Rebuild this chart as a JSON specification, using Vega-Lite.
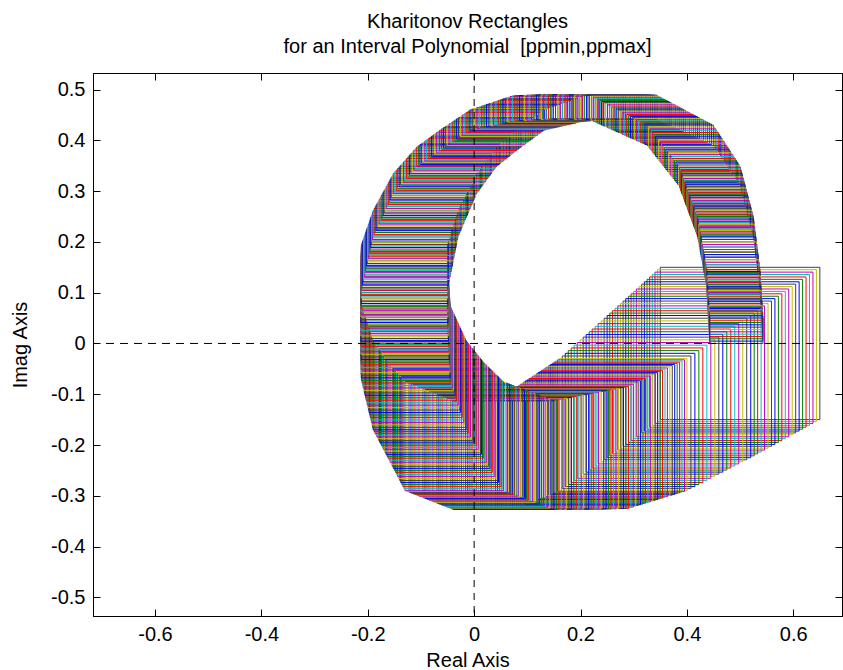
{
"$schema": "https://vega.github.io/schema/vega-lite/v6.json",
"width": 749, "height": 543,
"autosize": {"type": "none"},
"padding": {"left": 93, "top": 73, "right": 1, "bottom": 54},
"background": "white",
"config": {
 "view": {"stroke": "black", "strokeWidth": 1},
 "font": "Liberation Sans",
 "axis": {"grid": false, "tickSize": -7, "tickColor": "black", "tickWidth": 1, "domainColor": "black", "domainWidth": 1, "labelColor": "black", "titleColor": "black", "labelFont": "Liberation Sans", "titleFont": "Liberation Sans", "labelFontSize": 20, "titleFontSize": 20, "titleFontWeight": "normal", "labelFlush": false, "labelOverlap": false}
},
"title": {"text": ["Kharitonov Rectangles", "for an Interval Polynomial \u00a0[ppmin,ppmax]"], "fontSize": 20, "fontWeight": "normal", "font": "Liberation Sans", "color": "black", "anchor": "middle", "offset": 15, "dy": 19, "lineHeight": 25, "baseline": "bottom"},
"layer": [
{
 "data": {"values": [
{"x1":0.35,"x2":0.65,"y1":-0.15,"y2":0.15,"k":0},
{"x1":0.345,"x2":0.6435,"y1":-0.1538,"y2":0.1453,"k":1},
{"x1":0.34,"x2":0.637,"y1":-0.1575,"y2":0.1405,"k":2},
{"x1":0.335,"x2":0.6305,"y1":-0.1613,"y2":0.1358,"k":3},
{"x1":0.33,"x2":0.624,"y1":-0.165,"y2":0.131,"k":4},
{"x1":0.325,"x2":0.6175,"y1":-0.1688,"y2":0.1263,"k":5},
{"x1":0.32,"x2":0.611,"y1":-0.1725,"y2":0.1215,"k":6},
{"x1":0.315,"x2":0.6045,"y1":-0.1763,"y2":0.1168,"k":0},
{"x1":0.31,"x2":0.598,"y1":-0.18,"y2":0.112,"k":1},
{"x1":0.305,"x2":0.5915,"y1":-0.1838,"y2":0.1073,"k":2},
{"x1":0.3,"x2":0.585,"y1":-0.1875,"y2":0.1025,"k":3},
{"x1":0.295,"x2":0.5785,"y1":-0.1913,"y2":0.0978,"k":4},
{"x1":0.29,"x2":0.572,"y1":-0.195,"y2":0.093,"k":5},
{"x1":0.285,"x2":0.5655,"y1":-0.1988,"y2":0.0883,"k":6},
{"x1":0.28,"x2":0.559,"y1":-0.2025,"y2":0.0835,"k":0},
{"x1":0.275,"x2":0.5525,"y1":-0.2063,"y2":0.0788,"k":1},
{"x1":0.27,"x2":0.546,"y1":-0.21,"y2":0.074,"k":2},
{"x1":0.265,"x2":0.5395,"y1":-0.2138,"y2":0.0693,"k":3},
{"x1":0.26,"x2":0.533,"y1":-0.2175,"y2":0.0645,"k":4},
{"x1":0.255,"x2":0.5265,"y1":-0.2213,"y2":0.0598,"k":5},
{"x1":0.25,"x2":0.52,"y1":-0.225,"y2":0.055,"k":6},
{"x1":0.2444,"x2":0.5125,"y1":-0.2291,"y2":0.0497,"k":0},
{"x1":0.2388,"x2":0.505,"y1":-0.2331,"y2":0.0444,"k":1},
{"x1":0.2331,"x2":0.4975,"y1":-0.2372,"y2":0.0391,"k":2},
{"x1":0.2275,"x2":0.49,"y1":-0.2413,"y2":0.0338,"k":3},
{"x1":0.2219,"x2":0.4825,"y1":-0.2453,"y2":0.0284,"k":4},
{"x1":0.2163,"x2":0.475,"y1":-0.2494,"y2":0.0231,"k":5},
{"x1":0.2106,"x2":0.4675,"y1":-0.2534,"y2":0.0178,"k":6},
{"x1":0.205,"x2":0.46,"y1":-0.2575,"y2":0.0125,"k":0},
{"x1":0.1994,"x2":0.4525,"y1":-0.2616,"y2":0.0072,"k":1},
{"x1":0.1938,"x2":0.445,"y1":-0.2656,"y2":0.0019,"k":2},
{"x1":0.1881,"x2":0.4375,"y1":-0.2697,"y2":-0.0034,"k":3},
{"x1":0.1825,"x2":0.43,"y1":-0.2738,"y2":-0.0088,"k":4},
{"x1":0.1769,"x2":0.4225,"y1":-0.2778,"y2":-0.0141,"k":5},
{"x1":0.1713,"x2":0.415,"y1":-0.2819,"y2":-0.0194,"k":6},
{"x1":0.1656,"x2":0.4075,"y1":-0.2859,"y2":-0.0247,"k":0},
{"x1":0.16,"x2":0.4,"y1":-0.29,"y2":-0.03,"k":1},
{"x1":0.1567,"x2":0.3954,"y1":-0.2915,"y2":-0.0323,"k":2},
{"x1":0.1533,"x2":0.3908,"y1":-0.2929,"y2":-0.0346,"k":3},
{"x1":0.15,"x2":0.3863,"y1":-0.2944,"y2":-0.0369,"k":4},
{"x1":0.1467,"x2":0.3817,"y1":-0.2958,"y2":-0.0392,"k":5},
{"x1":0.1433,"x2":0.3771,"y1":-0.2973,"y2":-0.0415,"k":6},
{"x1":0.14,"x2":0.3725,"y1":-0.2988,"y2":-0.0438,"k":0},
{"x1":0.1367,"x2":0.3679,"y1":-0.3002,"y2":-0.046,"k":1},
{"x1":0.1333,"x2":0.3633,"y1":-0.3017,"y2":-0.0483,"k":2},
{"x1":0.13,"x2":0.3588,"y1":-0.3031,"y2":-0.0506,"k":3},
{"x1":0.1267,"x2":0.3542,"y1":-0.3046,"y2":-0.0529,"k":4},
{"x1":0.1233,"x2":0.3496,"y1":-0.306,"y2":-0.0552,"k":5},
{"x1":0.12,"x2":0.345,"y1":-0.3075,"y2":-0.0575,"k":6},
{"x1":0.1167,"x2":0.3404,"y1":-0.309,"y2":-0.0598,"k":0},
{"x1":0.1133,"x2":0.3358,"y1":-0.3104,"y2":-0.0621,"k":1},
{"x1":0.11,"x2":0.3313,"y1":-0.3119,"y2":-0.0644,"k":2},
{"x1":0.1067,"x2":0.3267,"y1":-0.3133,"y2":-0.0667,"k":3},
{"x1":0.1033,"x2":0.3221,"y1":-0.3148,"y2":-0.069,"k":4},
{"x1":0.1,"x2":0.3175,"y1":-0.3163,"y2":-0.0713,"k":5},
{"x1":0.0967,"x2":0.3129,"y1":-0.3177,"y2":-0.0735,"k":6},
{"x1":0.0933,"x2":0.3083,"y1":-0.3192,"y2":-0.0758,"k":0},
{"x1":0.09,"x2":0.3038,"y1":-0.3206,"y2":-0.0781,"k":1},
{"x1":0.0867,"x2":0.2992,"y1":-0.3221,"y2":-0.0804,"k":2},
{"x1":0.0833,"x2":0.2946,"y1":-0.3235,"y2":-0.0827,"k":3},
{"x1":0.08,"x2":0.29,"y1":-0.325,"y2":-0.085,"k":4},
{"x1":0.076,"x2":0.2853,"y1":-0.3251,"y2":-0.0859,"k":5},
{"x1":0.072,"x2":0.2807,"y1":-0.3251,"y2":-0.0869,"k":6},
{"x1":0.068,"x2":0.276,"y1":-0.3252,"y2":-0.0878,"k":0},
{"x1":0.064,"x2":0.2713,"y1":-0.3253,"y2":-0.0887,"k":1},
{"x1":0.06,"x2":0.2667,"y1":-0.3253,"y2":-0.0897,"k":2},
{"x1":0.056,"x2":0.262,"y1":-0.3254,"y2":-0.0906,"k":3},
{"x1":0.052,"x2":0.2573,"y1":-0.3255,"y2":-0.0915,"k":4},
{"x1":0.048,"x2":0.2527,"y1":-0.3255,"y2":-0.0925,"k":5},
{"x1":0.044,"x2":0.248,"y1":-0.3256,"y2":-0.0934,"k":6},
{"x1":0.04,"x2":0.2433,"y1":-0.3257,"y2":-0.0943,"k":0},
{"x1":0.036,"x2":0.2387,"y1":-0.3257,"y2":-0.0953,"k":1},
{"x1":0.032,"x2":0.234,"y1":-0.3258,"y2":-0.0962,"k":2},
{"x1":0.028,"x2":0.2293,"y1":-0.3259,"y2":-0.0971,"k":3},
{"x1":0.024,"x2":0.2247,"y1":-0.3259,"y2":-0.0981,"k":4},
{"x1":0.02,"x2":0.22,"y1":-0.326,"y2":-0.099,"k":5},
{"x1":0.016,"x2":0.2153,"y1":-0.3261,"y2":-0.0999,"k":6},
{"x1":0.012,"x2":0.2107,"y1":-0.3261,"y2":-0.1009,"k":0},
{"x1":0.008,"x2":0.206,"y1":-0.3262,"y2":-0.1018,"k":1},
{"x1":0.004,"x2":0.2013,"y1":-0.3263,"y2":-0.1027,"k":2},
{"x1":0,"x2":0.1967,"y1":-0.3263,"y2":-0.1037,"k":3},
{"x1":-0.004,"x2":0.192,"y1":-0.3264,"y2":-0.1046,"k":4},
{"x1":-0.008,"x2":0.1873,"y1":-0.3265,"y2":-0.1055,"k":5},
{"x1":-0.012,"x2":0.1827,"y1":-0.3265,"y2":-0.1065,"k":6},
{"x1":-0.016,"x2":0.178,"y1":-0.3266,"y2":-0.1074,"k":0},
{"x1":-0.02,"x2":0.1733,"y1":-0.3267,"y2":-0.1083,"k":1},
{"x1":-0.024,"x2":0.1687,"y1":-0.3267,"y2":-0.1093,"k":2},
{"x1":-0.028,"x2":0.164,"y1":-0.3268,"y2":-0.1102,"k":3},
{"x1":-0.032,"x2":0.1593,"y1":-0.3269,"y2":-0.1111,"k":4},
{"x1":-0.036,"x2":0.1547,"y1":-0.3269,"y2":-0.1121,"k":5},
{"x1":-0.04,"x2":0.15,"y1":-0.327,"y2":-0.113,"k":6},
{"x1":-0.0438,"x2":0.146,"y1":-0.3255,"y2":-0.1114,"k":0},
{"x1":-0.0475,"x2":0.1421,"y1":-0.3239,"y2":-0.1098,"k":1},
{"x1":-0.0513,"x2":0.1381,"y1":-0.3224,"y2":-0.1083,"k":2},
{"x1":-0.055,"x2":0.1342,"y1":-0.3208,"y2":-0.1067,"k":3},
{"x1":-0.0588,"x2":0.1302,"y1":-0.3193,"y2":-0.1051,"k":4},
{"x1":-0.0625,"x2":0.1263,"y1":-0.3178,"y2":-0.1035,"k":5},
{"x1":-0.0663,"x2":0.1223,"y1":-0.3162,"y2":-0.1019,"k":6},
{"x1":-0.07,"x2":0.1183,"y1":-0.3147,"y2":-0.1003,"k":0},
{"x1":-0.0738,"x2":0.1144,"y1":-0.3131,"y2":-0.0988,"k":1},
{"x1":-0.0775,"x2":0.1104,"y1":-0.3116,"y2":-0.0972,"k":2},
{"x1":-0.0813,"x2":0.1065,"y1":-0.31,"y2":-0.0956,"k":3},
{"x1":-0.085,"x2":0.1025,"y1":-0.3085,"y2":-0.094,"k":4},
{"x1":-0.0888,"x2":0.0985,"y1":-0.307,"y2":-0.0924,"k":5},
{"x1":-0.0925,"x2":0.0946,"y1":-0.3054,"y2":-0.0908,"k":6},
{"x1":-0.0963,"x2":0.0906,"y1":-0.3039,"y2":-0.0893,"k":0},
{"x1":-0.1,"x2":0.0867,"y1":-0.3023,"y2":-0.0877,"k":1},
{"x1":-0.1038,"x2":0.0827,"y1":-0.3008,"y2":-0.0861,"k":2},
{"x1":-0.1075,"x2":0.0788,"y1":-0.2993,"y2":-0.0845,"k":3},
{"x1":-0.1113,"x2":0.0748,"y1":-0.2977,"y2":-0.0829,"k":4},
{"x1":-0.115,"x2":0.0708,"y1":-0.2962,"y2":-0.0813,"k":5},
{"x1":-0.1188,"x2":0.0669,"y1":-0.2946,"y2":-0.0798,"k":6},
{"x1":-0.1225,"x2":0.0629,"y1":-0.2931,"y2":-0.0782,"k":0},
{"x1":-0.1263,"x2":0.059,"y1":-0.2915,"y2":-0.0766,"k":1},
{"x1":-0.13,"x2":0.055,"y1":-0.29,"y2":-0.075,"k":2},
{"x1":-0.132,"x2":0.0527,"y1":-0.286,"y2":-0.0726,"k":3},
{"x1":-0.134,"x2":0.0504,"y1":-0.282,"y2":-0.0703,"k":4},
{"x1":-0.136,"x2":0.0481,"y1":-0.278,"y2":-0.0679,"k":5},
{"x1":-0.138,"x2":0.0458,"y1":-0.274,"y2":-0.0655,"k":6},
{"x1":-0.14,"x2":0.0434,"y1":-0.27,"y2":-0.0631,"k":0},
{"x1":-0.142,"x2":0.0411,"y1":-0.266,"y2":-0.0608,"k":1},
{"x1":-0.144,"x2":0.0388,"y1":-0.262,"y2":-0.0584,"k":2},
{"x1":-0.146,"x2":0.0365,"y1":-0.258,"y2":-0.056,"k":3},
{"x1":-0.148,"x2":0.0342,"y1":-0.254,"y2":-0.0536,"k":4},
{"x1":-0.15,"x2":0.0319,"y1":-0.25,"y2":-0.0513,"k":5},
{"x1":-0.152,"x2":0.0296,"y1":-0.246,"y2":-0.0489,"k":6},
{"x1":-0.154,"x2":0.0273,"y1":-0.242,"y2":-0.0465,"k":0},
{"x1":-0.156,"x2":0.0249,"y1":-0.238,"y2":-0.0441,"k":1},
{"x1":-0.158,"x2":0.0226,"y1":-0.234,"y2":-0.0418,"k":2},
{"x1":-0.16,"x2":0.0203,"y1":-0.23,"y2":-0.0394,"k":3},
{"x1":-0.162,"x2":0.018,"y1":-0.226,"y2":-0.037,"k":4},
{"x1":-0.1638,"x2":0.0159,"y1":-0.2225,"y2":-0.0343,"k":5},
{"x1":-0.1655,"x2":0.0139,"y1":-0.219,"y2":-0.0316,"k":6},
{"x1":-0.1673,"x2":0.0118,"y1":-0.2155,"y2":-0.0289,"k":0},
{"x1":-0.169,"x2":0.0098,"y1":-0.212,"y2":-0.0263,"k":1},
{"x1":-0.1708,"x2":0.0077,"y1":-0.2085,"y2":-0.0236,"k":2},
{"x1":-0.1725,"x2":0.0056,"y1":-0.205,"y2":-0.0209,"k":3},
{"x1":-0.1743,"x2":0.0036,"y1":-0.2015,"y2":-0.0182,"k":4},
{"x1":-0.176,"x2":0.0015,"y1":-0.198,"y2":-0.0155,"k":5},
{"x1":-0.1778,"x2":-0.0006,"y1":-0.1945,"y2":-0.0128,"k":6},
{"x1":-0.1795,"x2":-0.0026,"y1":-0.191,"y2":-0.0101,"k":0},
{"x1":-0.1813,"x2":-0.0047,"y1":-0.1875,"y2":-0.0074,"k":1},
{"x1":-0.183,"x2":-0.0068,"y1":-0.184,"y2":-0.0048,"k":2},
{"x1":-0.1848,"x2":-0.0088,"y1":-0.1805,"y2":-0.0021,"k":3},
{"x1":-0.1865,"x2":-0.0109,"y1":-0.177,"y2":0.0006,"k":4},
{"x1":-0.1883,"x2":-0.0129,"y1":-0.1735,"y2":0.0033,"k":5},
{"x1":-0.19,"x2":-0.015,"y1":-0.17,"y2":0.006,"k":6},
{"x1":-0.1911,"x2":-0.0165,"y1":-0.1652,"y2":0.0095,"k":0},
{"x1":-0.1922,"x2":-0.018,"y1":-0.1603,"y2":0.0129,"k":1},
{"x1":-0.1933,"x2":-0.0195,"y1":-0.1555,"y2":0.0164,"k":2},
{"x1":-0.1944,"x2":-0.021,"y1":-0.1506,"y2":0.0198,"k":3},
{"x1":-0.1955,"x2":-0.0225,"y1":-0.1458,"y2":0.0233,"k":4},
{"x1":-0.1966,"x2":-0.024,"y1":-0.1409,"y2":0.0267,"k":5},
{"x1":-0.1977,"x2":-0.0255,"y1":-0.1361,"y2":0.0302,"k":6},
{"x1":-0.1988,"x2":-0.027,"y1":-0.1312,"y2":0.0336,"k":0},
{"x1":-0.1999,"x2":-0.0285,"y1":-0.1264,"y2":0.0371,"k":1},
{"x1":-0.201,"x2":-0.03,"y1":-0.1215,"y2":0.0405,"k":2},
{"x1":-0.2021,"x2":-0.0315,"y1":-0.1167,"y2":0.044,"k":3},
{"x1":-0.2032,"x2":-0.033,"y1":-0.1118,"y2":0.0474,"k":4},
{"x1":-0.2043,"x2":-0.0345,"y1":-0.107,"y2":0.0509,"k":5},
{"x1":-0.2054,"x2":-0.036,"y1":-0.1021,"y2":0.0543,"k":6},
{"x1":-0.2065,"x2":-0.0375,"y1":-0.0973,"y2":0.0578,"k":0},
{"x1":-0.2076,"x2":-0.039,"y1":-0.0924,"y2":0.0612,"k":1},
{"x1":-0.2087,"x2":-0.0405,"y1":-0.0876,"y2":0.0647,"k":2},
{"x1":-0.2098,"x2":-0.042,"y1":-0.0827,"y2":0.0681,"k":3},
{"x1":-0.2109,"x2":-0.0435,"y1":-0.0779,"y2":0.0716,"k":4},
{"x1":-0.212,"x2":-0.045,"y1":-0.073,"y2":0.075,"k":5},
{"x1":-0.2121,"x2":-0.0452,"y1":-0.0678,"y2":0.0786,"k":6},
{"x1":-0.2121,"x2":-0.0454,"y1":-0.0627,"y2":0.0822,"k":0},
{"x1":-0.2122,"x2":-0.0457,"y1":-0.0575,"y2":0.0858,"k":1},
{"x1":-0.2122,"x2":-0.0459,"y1":-0.0523,"y2":0.0894,"k":2},
{"x1":-0.2123,"x2":-0.0461,"y1":-0.0472,"y2":0.0931,"k":3},
{"x1":-0.2123,"x2":-0.0463,"y1":-0.042,"y2":0.0967,"k":4},
{"x1":-0.2124,"x2":-0.0466,"y1":-0.0368,"y2":0.1003,"k":5},
{"x1":-0.2124,"x2":-0.0468,"y1":-0.0317,"y2":0.1039,"k":6},
{"x1":-0.2125,"x2":-0.047,"y1":-0.0265,"y2":0.1075,"k":0},
{"x1":-0.2126,"x2":-0.0472,"y1":-0.0213,"y2":0.1111,"k":1},
{"x1":-0.2126,"x2":-0.0474,"y1":-0.0162,"y2":0.1147,"k":2},
{"x1":-0.2127,"x2":-0.0477,"y1":-0.011,"y2":0.1183,"k":3},
{"x1":-0.2127,"x2":-0.0479,"y1":-0.0058,"y2":0.1219,"k":4},
{"x1":-0.2128,"x2":-0.0481,"y1":-0.0007,"y2":0.1256,"k":5},
{"x1":-0.2128,"x2":-0.0483,"y1":0.0045,"y2":0.1292,"k":6},
{"x1":-0.2129,"x2":-0.0486,"y1":0.0097,"y2":0.1328,"k":0},
{"x1":-0.2129,"x2":-0.0488,"y1":0.0148,"y2":0.1364,"k":1},
{"x1":-0.213,"x2":-0.049,"y1":0.02,"y2":0.14,"k":2},
{"x1":-0.2129,"x2":-0.0491,"y1":0.0253,"y2":0.1434,"k":3},
{"x1":-0.2129,"x2":-0.0491,"y1":0.0306,"y2":0.1469,"k":4},
{"x1":-0.2128,"x2":-0.0492,"y1":0.0359,"y2":0.1503,"k":5},
{"x1":-0.2128,"x2":-0.0493,"y1":0.0413,"y2":0.1538,"k":6},
{"x1":-0.2127,"x2":-0.0493,"y1":0.0466,"y2":0.1572,"k":0},
{"x1":-0.2126,"x2":-0.0494,"y1":0.0519,"y2":0.1606,"k":1},
{"x1":-0.2126,"x2":-0.0494,"y1":0.0572,"y2":0.1641,"k":2},
{"x1":-0.2125,"x2":-0.0495,"y1":0.0625,"y2":0.1675,"k":3},
{"x1":-0.2124,"x2":-0.0496,"y1":0.0678,"y2":0.1709,"k":4},
{"x1":-0.2124,"x2":-0.0496,"y1":0.0731,"y2":0.1744,"k":5},
{"x1":-0.2123,"x2":-0.0497,"y1":0.0784,"y2":0.1778,"k":6},
{"x1":-0.2123,"x2":-0.0498,"y1":0.0838,"y2":0.1813,"k":0},
{"x1":-0.2122,"x2":-0.0498,"y1":0.0891,"y2":0.1847,"k":1},
{"x1":-0.2121,"x2":-0.0499,"y1":0.0944,"y2":0.1881,"k":2},
{"x1":-0.2121,"x2":-0.0499,"y1":0.0997,"y2":0.1916,"k":3},
{"x1":-0.212,"x2":-0.05,"y1":0.105,"y2":0.195,"k":4},
{"x1":-0.2109,"x2":-0.049,"y1":0.1103,"y2":0.1984,"k":5},
{"x1":-0.2098,"x2":-0.048,"y1":0.1155,"y2":0.2017,"k":6},
{"x1":-0.2087,"x2":-0.047,"y1":0.1208,"y2":0.2051,"k":0},
{"x1":-0.2076,"x2":-0.046,"y1":0.126,"y2":0.2084,"k":1},
{"x1":-0.2065,"x2":-0.045,"y1":0.1313,"y2":0.2118,"k":2},
{"x1":-0.2054,"x2":-0.044,"y1":0.1365,"y2":0.2151,"k":3},
{"x1":-0.2043,"x2":-0.043,"y1":0.1418,"y2":0.2185,"k":4},
{"x1":-0.2032,"x2":-0.042,"y1":0.147,"y2":0.2218,"k":5},
{"x1":-0.2021,"x2":-0.041,"y1":0.1523,"y2":0.2252,"k":6},
{"x1":-0.201,"x2":-0.04,"y1":0.1575,"y2":0.2285,"k":0},
{"x1":-0.1999,"x2":-0.039,"y1":0.1628,"y2":0.2319,"k":1},
{"x1":-0.1988,"x2":-0.038,"y1":0.168,"y2":0.2352,"k":2},
{"x1":-0.1977,"x2":-0.037,"y1":0.1733,"y2":0.2386,"k":3},
{"x1":-0.1966,"x2":-0.036,"y1":0.1785,"y2":0.2419,"k":4},
{"x1":-0.1955,"x2":-0.035,"y1":0.1838,"y2":0.2453,"k":5},
{"x1":-0.1944,"x2":-0.034,"y1":0.189,"y2":0.2486,"k":6},
{"x1":-0.1933,"x2":-0.033,"y1":0.1943,"y2":0.252,"k":0},
{"x1":-0.1922,"x2":-0.032,"y1":0.1995,"y2":0.2553,"k":1},
{"x1":-0.1911,"x2":-0.031,"y1":0.2048,"y2":0.2587,"k":2},
{"x1":-0.19,"x2":-0.03,"y1":0.21,"y2":0.262,"k":3},
{"x1":-0.1881,"x2":-0.0283,"y1":0.2143,"y2":0.2657,"k":4},
{"x1":-0.1862,"x2":-0.0265,"y1":0.2185,"y2":0.2693,"k":5},
{"x1":-0.1843,"x2":-0.0248,"y1":0.2228,"y2":0.273,"k":6},
{"x1":-0.1824,"x2":-0.023,"y1":0.227,"y2":0.2766,"k":0},
{"x1":-0.1805,"x2":-0.0213,"y1":0.2313,"y2":0.2803,"k":1},
{"x1":-0.1786,"x2":-0.0195,"y1":0.2355,"y2":0.2839,"k":2},
{"x1":-0.1767,"x2":-0.0178,"y1":0.2398,"y2":0.2876,"k":3},
{"x1":-0.1748,"x2":-0.016,"y1":0.244,"y2":0.2912,"k":4},
{"x1":-0.1729,"x2":-0.0143,"y1":0.2483,"y2":0.2949,"k":5},
{"x1":-0.171,"x2":-0.0125,"y1":0.2525,"y2":0.2985,"k":6},
{"x1":-0.1691,"x2":-0.0108,"y1":0.2568,"y2":0.3022,"k":0},
{"x1":-0.1672,"x2":-0.009,"y1":0.261,"y2":0.3058,"k":1},
{"x1":-0.1653,"x2":-0.0073,"y1":0.2653,"y2":0.3095,"k":2},
{"x1":-0.1634,"x2":-0.0055,"y1":0.2695,"y2":0.3131,"k":3},
{"x1":-0.1615,"x2":-0.0038,"y1":0.2738,"y2":0.3168,"k":4},
{"x1":-0.1596,"x2":-0.002,"y1":0.278,"y2":0.3204,"k":5},
{"x1":-0.1577,"x2":-0.0003,"y1":0.2823,"y2":0.3241,"k":6},
{"x1":-0.1558,"x2":0.0015,"y1":0.2865,"y2":0.3277,"k":0},
{"x1":-0.1539,"x2":0.0033,"y1":0.2908,"y2":0.3314,"k":1},
{"x1":-0.152,"x2":0.005,"y1":0.295,"y2":0.335,"k":2},
{"x1":-0.1493,"x2":0.0073,"y1":0.2983,"y2":0.3383,"k":3},
{"x1":-0.1465,"x2":0.0096,"y1":0.3016,"y2":0.3415,"k":4},
{"x1":-0.1438,"x2":0.0119,"y1":0.3049,"y2":0.3448,"k":5},
{"x1":-0.141,"x2":0.0143,"y1":0.3083,"y2":0.348,"k":6},
{"x1":-0.1383,"x2":0.0166,"y1":0.3116,"y2":0.3513,"k":0},
{"x1":-0.1355,"x2":0.0189,"y1":0.3149,"y2":0.3545,"k":1},
{"x1":-0.1328,"x2":0.0212,"y1":0.3182,"y2":0.3578,"k":2},
{"x1":-0.13,"x2":0.0235,"y1":0.3215,"y2":0.361,"k":3},
{"x1":-0.1273,"x2":0.0258,"y1":0.3248,"y2":0.3643,"k":4},
{"x1":-0.1245,"x2":0.0281,"y1":0.3281,"y2":0.3675,"k":5},
{"x1":-0.1218,"x2":0.0304,"y1":0.3314,"y2":0.3708,"k":6},
{"x1":-0.119,"x2":0.0328,"y1":0.3348,"y2":0.374,"k":0},
{"x1":-0.1163,"x2":0.0351,"y1":0.3381,"y2":0.3773,"k":1},
{"x1":-0.1135,"x2":0.0374,"y1":0.3414,"y2":0.3805,"k":2},
{"x1":-0.1108,"x2":0.0397,"y1":0.3447,"y2":0.3838,"k":3},
{"x1":-0.108,"x2":0.042,"y1":0.348,"y2":0.387,"k":4},
{"x1":-0.1049,"x2":0.0447,"y1":0.3503,"y2":0.3894,"k":5},
{"x1":-0.1019,"x2":0.0474,"y1":0.3526,"y2":0.3917,"k":6},
{"x1":-0.0988,"x2":0.0501,"y1":0.3549,"y2":0.3941,"k":0},
{"x1":-0.0957,"x2":0.0529,"y1":0.3571,"y2":0.3964,"k":1},
{"x1":-0.0926,"x2":0.0556,"y1":0.3594,"y2":0.3988,"k":2},
{"x1":-0.0896,"x2":0.0583,"y1":0.3617,"y2":0.4011,"k":3},
{"x1":-0.0865,"x2":0.061,"y1":0.364,"y2":0.4035,"k":4},
{"x1":-0.0834,"x2":0.0637,"y1":0.3663,"y2":0.4059,"k":5},
{"x1":-0.0804,"x2":0.0664,"y1":0.3686,"y2":0.4082,"k":6},
{"x1":-0.0773,"x2":0.0691,"y1":0.3709,"y2":0.4106,"k":0},
{"x1":-0.0742,"x2":0.0719,"y1":0.3731,"y2":0.4129,"k":1},
{"x1":-0.0711,"x2":0.0746,"y1":0.3754,"y2":0.4153,"k":2},
{"x1":-0.0681,"x2":0.0773,"y1":0.3777,"y2":0.4176,"k":3},
{"x1":-0.065,"x2":0.08,"y1":0.38,"y2":0.42,"k":4},
{"x1":-0.0614,"x2":0.0833,"y1":0.3825,"y2":0.4225,"k":5},
{"x1":-0.0579,"x2":0.0865,"y1":0.385,"y2":0.425,"k":6},
{"x1":-0.0543,"x2":0.0898,"y1":0.3875,"y2":0.4275,"k":0},
{"x1":-0.0508,"x2":0.093,"y1":0.39,"y2":0.43,"k":1},
{"x1":-0.0472,"x2":0.0963,"y1":0.3925,"y2":0.4325,"k":2},
{"x1":-0.0436,"x2":0.0995,"y1":0.395,"y2":0.435,"k":3},
{"x1":-0.0401,"x2":0.1028,"y1":0.3975,"y2":0.4375,"k":4},
{"x1":-0.0365,"x2":0.106,"y1":0.4,"y2":0.44,"k":5},
{"x1":-0.0329,"x2":0.1093,"y1":0.4025,"y2":0.4425,"k":6},
{"x1":-0.0294,"x2":0.1125,"y1":0.405,"y2":0.445,"k":0},
{"x1":-0.0258,"x2":0.1158,"y1":0.4075,"y2":0.4475,"k":1},
{"x1":-0.0223,"x2":0.119,"y1":0.41,"y2":0.45,"k":2},
{"x1":-0.0187,"x2":0.1223,"y1":0.4125,"y2":0.4525,"k":3},
{"x1":-0.0151,"x2":0.1255,"y1":0.415,"y2":0.455,"k":4},
{"x1":-0.0116,"x2":0.1288,"y1":0.4175,"y2":0.4575,"k":5},
{"x1":-0.008,"x2":0.132,"y1":0.42,"y2":0.46,"k":6},
{"x1":-0.0036,"x2":0.1362,"y1":0.421,"y2":0.4616,"k":0},
{"x1":0.0009,"x2":0.1404,"y1":0.422,"y2":0.4631,"k":1},
{"x1":0.0053,"x2":0.1447,"y1":0.423,"y2":0.4647,"k":2},
{"x1":0.0098,"x2":0.1489,"y1":0.424,"y2":0.4662,"k":3},
{"x1":0.0142,"x2":0.1531,"y1":0.425,"y2":0.4678,"k":4},
{"x1":0.0187,"x2":0.1573,"y1":0.426,"y2":0.4693,"k":5},
{"x1":0.0231,"x2":0.1616,"y1":0.427,"y2":0.4709,"k":6},
{"x1":0.0276,"x2":0.1658,"y1":0.428,"y2":0.4724,"k":0},
{"x1":0.032,"x2":0.17,"y1":0.429,"y2":0.474,"k":1},
{"x1":0.0364,"x2":0.1742,"y1":0.43,"y2":0.4756,"k":2},
{"x1":0.0409,"x2":0.1784,"y1":0.431,"y2":0.4771,"k":3},
{"x1":0.0453,"x2":0.1827,"y1":0.432,"y2":0.4787,"k":4},
{"x1":0.0498,"x2":0.1869,"y1":0.433,"y2":0.4802,"k":5},
{"x1":0.0542,"x2":0.1911,"y1":0.434,"y2":0.4818,"k":6},
{"x1":0.0587,"x2":0.1953,"y1":0.435,"y2":0.4833,"k":0},
{"x1":0.0631,"x2":0.1996,"y1":0.436,"y2":0.4849,"k":1},
{"x1":0.0676,"x2":0.2038,"y1":0.437,"y2":0.4864,"k":2},
{"x1":0.072,"x2":0.208,"y1":0.438,"y2":0.488,"k":3},
{"x1":0.0765,"x2":0.2123,"y1":0.4383,"y2":0.4881,"k":4},
{"x1":0.081,"x2":0.2165,"y1":0.4385,"y2":0.4883,"k":5},
{"x1":0.0855,"x2":0.2208,"y1":0.4388,"y2":0.4884,"k":6},
{"x1":0.09,"x2":0.225,"y1":0.439,"y2":0.4885,"k":0},
{"x1":0.0945,"x2":0.2293,"y1":0.4393,"y2":0.4886,"k":1},
{"x1":0.099,"x2":0.2335,"y1":0.4395,"y2":0.4888,"k":2},
{"x1":0.1035,"x2":0.2378,"y1":0.4398,"y2":0.4889,"k":3},
{"x1":0.108,"x2":0.242,"y1":0.44,"y2":0.489,"k":4},
{"x1":0.1125,"x2":0.2463,"y1":0.4403,"y2":0.4891,"k":5},
{"x1":0.117,"x2":0.2505,"y1":0.4405,"y2":0.4893,"k":6},
{"x1":0.1215,"x2":0.2548,"y1":0.4408,"y2":0.4894,"k":0},
{"x1":0.126,"x2":0.259,"y1":0.441,"y2":0.4895,"k":1},
{"x1":0.1305,"x2":0.2633,"y1":0.4413,"y2":0.4896,"k":2},
{"x1":0.135,"x2":0.2675,"y1":0.4415,"y2":0.4898,"k":3},
{"x1":0.1395,"x2":0.2718,"y1":0.4418,"y2":0.4899,"k":4},
{"x1":0.144,"x2":0.276,"y1":0.442,"y2":0.49,"k":5},
{"x1":0.1485,"x2":0.2803,"y1":0.4419,"y2":0.4899,"k":6},
{"x1":0.153,"x2":0.2845,"y1":0.4419,"y2":0.4899,"k":0},
{"x1":0.1575,"x2":0.2888,"y1":0.4418,"y2":0.4898,"k":1},
{"x1":0.162,"x2":0.293,"y1":0.4418,"y2":0.4898,"k":2},
{"x1":0.1665,"x2":0.2973,"y1":0.4417,"y2":0.4897,"k":3},
{"x1":0.171,"x2":0.3015,"y1":0.4416,"y2":0.4896,"k":4},
{"x1":0.1755,"x2":0.3058,"y1":0.4416,"y2":0.4896,"k":5},
{"x1":0.18,"x2":0.31,"y1":0.4415,"y2":0.4895,"k":6},
{"x1":0.1845,"x2":0.3143,"y1":0.4414,"y2":0.4894,"k":0},
{"x1":0.189,"x2":0.3185,"y1":0.4414,"y2":0.4894,"k":1},
{"x1":0.1935,"x2":0.3228,"y1":0.4413,"y2":0.4893,"k":2},
{"x1":0.198,"x2":0.327,"y1":0.4413,"y2":0.4893,"k":3},
{"x1":0.2025,"x2":0.3313,"y1":0.4412,"y2":0.4892,"k":4},
{"x1":0.207,"x2":0.3355,"y1":0.4411,"y2":0.4891,"k":5},
{"x1":0.2115,"x2":0.3398,"y1":0.4411,"y2":0.4891,"k":6},
{"x1":0.216,"x2":0.344,"y1":0.441,"y2":0.489,"k":0},
{"x1":0.2199,"x2":0.3478,"y1":0.4392,"y2":0.4869,"k":1},
{"x1":0.2238,"x2":0.3516,"y1":0.4374,"y2":0.4848,"k":2},
{"x1":0.2277,"x2":0.3554,"y1":0.4355,"y2":0.4827,"k":3},
{"x1":0.2316,"x2":0.3591,"y1":0.4337,"y2":0.4806,"k":4},
{"x1":0.2355,"x2":0.3629,"y1":0.4319,"y2":0.4785,"k":5},
{"x1":0.2394,"x2":0.3667,"y1":0.4301,"y2":0.4764,"k":6},
{"x1":0.2433,"x2":0.3705,"y1":0.4283,"y2":0.4743,"k":0},
{"x1":0.2471,"x2":0.3743,"y1":0.4264,"y2":0.4721,"k":1},
{"x1":0.251,"x2":0.3781,"y1":0.4246,"y2":0.47,"k":2},
{"x1":0.2549,"x2":0.3819,"y1":0.4228,"y2":0.4679,"k":3},
{"x1":0.2588,"x2":0.3856,"y1":0.421,"y2":0.4658,"k":4},
{"x1":0.2627,"x2":0.3894,"y1":0.4191,"y2":0.4637,"k":5},
{"x1":0.2666,"x2":0.3932,"y1":0.4173,"y2":0.4616,"k":6},
{"x1":0.2705,"x2":0.397,"y1":0.4155,"y2":0.4595,"k":0},
{"x1":0.2744,"x2":0.4008,"y1":0.4137,"y2":0.4574,"k":1},
{"x1":0.2783,"x2":0.4046,"y1":0.4119,"y2":0.4553,"k":2},
{"x1":0.2822,"x2":0.4084,"y1":0.41,"y2":0.4532,"k":3},
{"x1":0.2861,"x2":0.4121,"y1":0.4082,"y2":0.4511,"k":4},
{"x1":0.29,"x2":0.4159,"y1":0.4064,"y2":0.449,"k":5},
{"x1":0.2939,"x2":0.4197,"y1":0.4046,"y2":0.4469,"k":6},
{"x1":0.2978,"x2":0.4235,"y1":0.4028,"y2":0.4448,"k":0},
{"x1":0.3016,"x2":0.4273,"y1":0.4009,"y2":0.4426,"k":1},
{"x1":0.3055,"x2":0.4311,"y1":0.3991,"y2":0.4405,"k":2},
{"x1":0.3094,"x2":0.4349,"y1":0.3973,"y2":0.4384,"k":3},
{"x1":0.3133,"x2":0.4386,"y1":0.3955,"y2":0.4363,"k":4},
{"x1":0.3172,"x2":0.4424,"y1":0.3936,"y2":0.4342,"k":5},
{"x1":0.3211,"x2":0.4462,"y1":0.3918,"y2":0.4321,"k":6},
{"x1":0.325,"x2":0.45,"y1":0.39,"y2":0.43,"k":0},
{"x1":0.3277,"x2":0.4523,"y1":0.3864,"y2":0.4264,"k":1},
{"x1":0.3305,"x2":0.4545,"y1":0.3827,"y2":0.4227,"k":2},
{"x1":0.3332,"x2":0.4568,"y1":0.3791,"y2":0.4191,"k":3},
{"x1":0.3359,"x2":0.4591,"y1":0.3755,"y2":0.4155,"k":4},
{"x1":0.3386,"x2":0.4614,"y1":0.3718,"y2":0.4118,"k":5},
{"x1":0.3414,"x2":0.4636,"y1":0.3682,"y2":0.4082,"k":6},
{"x1":0.3441,"x2":0.4659,"y1":0.3645,"y2":0.4045,"k":0},
{"x1":0.3468,"x2":0.4682,"y1":0.3609,"y2":0.4009,"k":1},
{"x1":0.3495,"x2":0.4705,"y1":0.3573,"y2":0.3973,"k":2},
{"x1":0.3523,"x2":0.4727,"y1":0.3536,"y2":0.3936,"k":3},
{"x1":0.355,"x2":0.475,"y1":0.35,"y2":0.39,"k":4},
{"x1":0.3577,"x2":0.4773,"y1":0.3464,"y2":0.3864,"k":5},
{"x1":0.3605,"x2":0.4795,"y1":0.3427,"y2":0.3827,"k":6},
{"x1":0.3632,"x2":0.4818,"y1":0.3391,"y2":0.3791,"k":0},
{"x1":0.3659,"x2":0.4841,"y1":0.3355,"y2":0.3755,"k":1},
{"x1":0.3686,"x2":0.4864,"y1":0.3318,"y2":0.3718,"k":2},
{"x1":0.3714,"x2":0.4886,"y1":0.3282,"y2":0.3682,"k":3},
{"x1":0.3741,"x2":0.4909,"y1":0.3245,"y2":0.3645,"k":4},
{"x1":0.3768,"x2":0.4932,"y1":0.3209,"y2":0.3609,"k":5},
{"x1":0.3795,"x2":0.4955,"y1":0.3173,"y2":0.3573,"k":6},
{"x1":0.3823,"x2":0.4977,"y1":0.3136,"y2":0.3536,"k":0},
{"x1":0.385,"x2":0.5,"y1":0.31,"y2":0.35,"k":1},
{"x1":0.3861,"x2":0.5008,"y1":0.3069,"y2":0.3469,"k":2},
{"x1":0.3872,"x2":0.5016,"y1":0.3038,"y2":0.3438,"k":3},
{"x1":0.3883,"x2":0.5023,"y1":0.3006,"y2":0.3406,"k":4},
{"x1":0.3894,"x2":0.5031,"y1":0.2975,"y2":0.3375,"k":5},
{"x1":0.3905,"x2":0.5039,"y1":0.2944,"y2":0.3344,"k":6},
{"x1":0.3916,"x2":0.5047,"y1":0.2913,"y2":0.3313,"k":0},
{"x1":0.3927,"x2":0.5055,"y1":0.2881,"y2":0.3281,"k":1},
{"x1":0.3938,"x2":0.5063,"y1":0.285,"y2":0.325,"k":2},
{"x1":0.3948,"x2":0.507,"y1":0.2819,"y2":0.3219,"k":3},
{"x1":0.3959,"x2":0.5078,"y1":0.2788,"y2":0.3188,"k":4},
{"x1":0.397,"x2":0.5086,"y1":0.2756,"y2":0.3156,"k":5},
{"x1":0.3981,"x2":0.5094,"y1":0.2725,"y2":0.3125,"k":6},
{"x1":0.3992,"x2":0.5102,"y1":0.2694,"y2":0.3094,"k":0},
{"x1":0.4003,"x2":0.5109,"y1":0.2663,"y2":0.3063,"k":1},
{"x1":0.4014,"x2":0.5117,"y1":0.2631,"y2":0.3031,"k":2},
{"x1":0.4025,"x2":0.5125,"y1":0.26,"y2":0.3,"k":3},
{"x1":0.4036,"x2":0.5133,"y1":0.2569,"y2":0.2969,"k":4},
{"x1":0.4047,"x2":0.5141,"y1":0.2538,"y2":0.2938,"k":5},
{"x1":0.4058,"x2":0.5148,"y1":0.2506,"y2":0.2906,"k":6},
{"x1":0.4069,"x2":0.5156,"y1":0.2475,"y2":0.2875,"k":0},
{"x1":0.408,"x2":0.5164,"y1":0.2444,"y2":0.2844,"k":1},
{"x1":0.4091,"x2":0.5172,"y1":0.2413,"y2":0.2813,"k":2},
{"x1":0.4102,"x2":0.518,"y1":0.2381,"y2":0.2781,"k":3},
{"x1":0.4113,"x2":0.5188,"y1":0.235,"y2":0.275,"k":4},
{"x1":0.4123,"x2":0.5195,"y1":0.2319,"y2":0.2719,"k":5},
{"x1":0.4134,"x2":0.5203,"y1":0.2288,"y2":0.2688,"k":6},
{"x1":0.4145,"x2":0.5211,"y1":0.2256,"y2":0.2656,"k":0},
{"x1":0.4156,"x2":0.5219,"y1":0.2225,"y2":0.2625,"k":1},
{"x1":0.4167,"x2":0.5227,"y1":0.2194,"y2":0.2594,"k":2},
{"x1":0.4178,"x2":0.5234,"y1":0.2163,"y2":0.2563,"k":3},
{"x1":0.4189,"x2":0.5242,"y1":0.2131,"y2":0.2531,"k":4},
{"x1":0.42,"x2":0.525,"y1":0.21,"y2":0.25,"k":5},
{"x1":0.4209,"x2":0.5256,"y1":0.205,"y2":0.245,"k":6},
{"x1":0.4217,"x2":0.5262,"y1":0.2,"y2":0.24,"k":0},
{"x1":0.4226,"x2":0.5268,"y1":0.195,"y2":0.235,"k":1},
{"x1":0.4234,"x2":0.5274,"y1":0.19,"y2":0.23,"k":2},
{"x1":0.4243,"x2":0.528,"y1":0.185,"y2":0.225,"k":3},
{"x1":0.4251,"x2":0.5286,"y1":0.18,"y2":0.22,"k":4},
{"x1":0.426,"x2":0.5292,"y1":0.175,"y2":0.215,"k":5},
{"x1":0.4268,"x2":0.5298,"y1":0.17,"y2":0.21,"k":6},
{"x1":0.4277,"x2":0.5304,"y1":0.165,"y2":0.205,"k":0},
{"x1":0.4285,"x2":0.531,"y1":0.16,"y2":0.2,"k":1},
{"x1":0.4294,"x2":0.5316,"y1":0.155,"y2":0.195,"k":2},
{"x1":0.4302,"x2":0.5322,"y1":0.15,"y2":0.19,"k":3},
{"x1":0.4311,"x2":0.5328,"y1":0.145,"y2":0.185,"k":4},
{"x1":0.4319,"x2":0.5334,"y1":0.14,"y2":0.18,"k":5},
{"x1":0.4328,"x2":0.534,"y1":0.135,"y2":0.175,"k":6},
{"x1":0.4336,"x2":0.5346,"y1":0.13,"y2":0.17,"k":0},
{"x1":0.4345,"x2":0.5352,"y1":0.125,"y2":0.165,"k":1},
{"x1":0.4353,"x2":0.5358,"y1":0.12,"y2":0.16,"k":2},
{"x1":0.4362,"x2":0.5364,"y1":0.115,"y2":0.155,"k":3},
{"x1":0.437,"x2":0.537,"y1":0.11,"y2":0.15,"k":4},
{"x1":0.4373,"x2":0.5373,"y1":0.1054,"y2":0.1458,"k":5},
{"x1":0.4375,"x2":0.5375,"y1":0.1008,"y2":0.1417,"k":6},
{"x1":0.4378,"x2":0.5378,"y1":0.0963,"y2":0.1375,"k":0},
{"x1":0.438,"x2":0.538,"y1":0.0917,"y2":0.1333,"k":1},
{"x1":0.4383,"x2":0.5383,"y1":0.0871,"y2":0.1292,"k":2},
{"x1":0.4385,"x2":0.5385,"y1":0.0825,"y2":0.125,"k":3},
{"x1":0.4388,"x2":0.5388,"y1":0.0779,"y2":0.1208,"k":4},
{"x1":0.439,"x2":0.539,"y1":0.0733,"y2":0.1167,"k":5},
{"x1":0.4393,"x2":0.5393,"y1":0.0688,"y2":0.1125,"k":6},
{"x1":0.4395,"x2":0.5395,"y1":0.0642,"y2":0.1083,"k":0},
{"x1":0.4398,"x2":0.5398,"y1":0.0596,"y2":0.1042,"k":1},
{"x1":0.44,"x2":0.54,"y1":0.055,"y2":0.1,"k":2},
{"x1":0.4403,"x2":0.5403,"y1":0.0504,"y2":0.0958,"k":3},
{"x1":0.4405,"x2":0.5405,"y1":0.0458,"y2":0.0917,"k":4},
{"x1":0.4408,"x2":0.5408,"y1":0.0413,"y2":0.0875,"k":5},
{"x1":0.441,"x2":0.541,"y1":0.0367,"y2":0.0833,"k":6},
{"x1":0.4413,"x2":0.5413,"y1":0.0321,"y2":0.0792,"k":0},
{"x1":0.4415,"x2":0.5415,"y1":0.0275,"y2":0.075,"k":1},
{"x1":0.4418,"x2":0.5418,"y1":0.0229,"y2":0.0708,"k":2},
{"x1":0.442,"x2":0.542,"y1":0.0183,"y2":0.0667,"k":3},
{"x1":0.4423,"x2":0.5423,"y1":0.0138,"y2":0.0625,"k":4},
{"x1":0.4425,"x2":0.5425,"y1":0.0092,"y2":0.0583,"k":5},
{"x1":0.4428,"x2":0.5428,"y1":0.0046,"y2":0.0542,"k":6},
{"x1":0.443,"x2":0.543,"y1":0,"y2":0.05,"k":0}
 ]},
 "mark": {"type": "rect", "filled": false, "strokeWidth": 1},
 "encoding": {
  "x": {"field": "x1", "type": "quantitative", "scale": {"domain": [-0.7166, 0.6916], "nice": false, "zero": false},
        "axis": {"orient": "bottom", "values": [-0.6, -0.4, -0.2, 0, 0.2, 0.4, 0.6], "title": "Real Axis", "labelPadding": 15, "titlePadding": 6, "labelExpr": "replace(format(datum.value, '~g'), '\u2212', '-')"}},
  "x2": {"field": "x2"},
  "y": {"field": "y1", "type": "quantitative", "scale": {"domain": [-0.5368, 0.5327], "nice": false, "zero": false},
        "axis": {"orient": "left", "values": [-0.5, -0.4, -0.3, -0.2, -0.1, 0, 0.1, 0.2, 0.3, 0.4, 0.5], "title": "Imag Axis", "labelPadding": 15, "titlePadding": 20, "labelExpr": "replace(format(datum.value, '~g'), '\u2212', '-')"}},
  "y2": {"field": "y2"},
  "color": {"field": "k", "type": "nominal", "scale": {"domain": [0, 1, 2, 3, 4, 5, 6], "range": ["#404040", "#bfbf00", "#bf00bf", "#00bfbf", "#ff0000", "#008000", "#0000ff"]}, "legend": null}
 }
},
{
 "data": {"values": [{"v": 0}]},
 "mark": {"type": "rule", "color": "black", "strokeWidth": 1, "strokeDash": [7, 6]},
 "encoding": {
  "x": {"field": "v", "type": "quantitative", "scale": {"domain": [-0.7166, 0.6916], "nice": false, "zero": false},
        "axis": {"orient": "top", "values": [-0.6, -0.4, -0.2, 0, 0.2, 0.4, 0.6], "labels": false, "title": null}}
 }
},
{
 "data": {"values": [{"v": 0}]},
 "mark": {"type": "rule", "color": "black", "strokeWidth": 1, "strokeDash": [8, 6]},
 "encoding": {
  "y": {"field": "v", "type": "quantitative", "scale": {"domain": [-0.5368, 0.5327], "nice": false, "zero": false},
        "axis": {"orient": "right", "values": [-0.5, -0.4, -0.3, -0.2, -0.1, 0, 0.1, 0.2, 0.3, 0.4, 0.5], "labels": false, "title": null}}
 }
}
],
"resolve": {"axis": {"x": "independent", "y": "independent"}}
}
